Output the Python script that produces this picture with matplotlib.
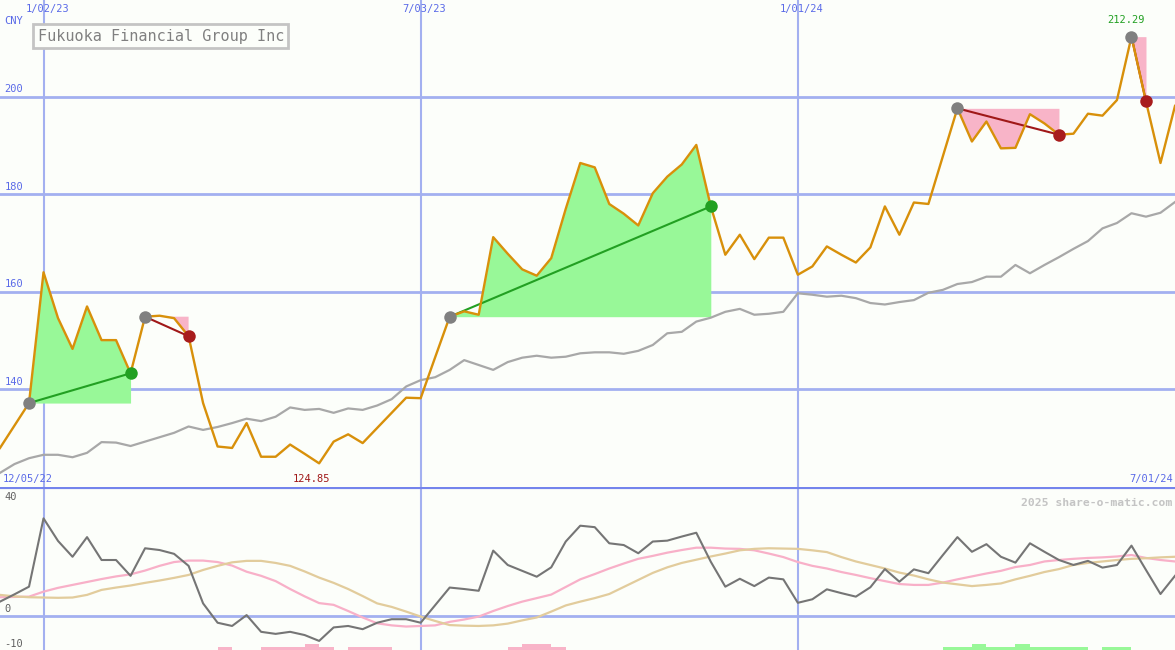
import numpy as np
import matplotlib
matplotlib.use('Agg')
import matplotlib.pyplot as plt
import matplotlib.transforms as mtransforms

################################################################################
# Weekly data (index 0 = 12/05/22, last = 7/01/24)
price = [128.0, 132.6, 137.2, 164.0, 154.6, 148.3, 157.0, 150.1, 150.1, 143.3,
         154.9, 155.1, 154.6, 150.9, 137.2, 128.3, 128.0, 133.1, 126.2, 126.2,
         128.7, 126.8, 124.85, 129.3, 130.8, 129.0, 132.1, 135.2, 138.3, 138.2,
         146.6, 154.9, 156.0, 155.3, 171.2, 167.8, 164.6, 163.3, 166.9, 177.0,
         186.4, 185.5, 178.0, 176.0, 173.6, 180.2, 183.6, 186.1, 190.1, 177.5,
         167.6, 171.7, 166.7, 171.1, 171.1, 163.5, 165.2, 169.3, 167.6, 166.0,
         169.1, 177.5, 171.7, 178.3, 178.0, 187.8, 197.6, 190.8, 194.9, 189.4,
         189.5, 196.4, 194.5, 192.2, 192.4, 196.5, 196.1, 199.3, 212.29, 199.0,
         186.4, 198.1]

avg = [122.9, 124.7, 125.9, 126.6, 126.6, 126.1, 127.0, 129.2, 129.1, 128.4,
       129.3, 130.2, 131.1, 132.4, 131.7, 132.3, 133.1, 134.0, 133.5, 134.4,
       136.3, 135.8, 136.0, 135.2, 136.1, 135.8, 136.7, 138.0, 140.6, 141.9,
       142.5, 144.0, 146.0, 145.0, 144.0, 145.6, 146.5, 146.9, 146.5, 146.7,
       147.4, 147.6, 147.6, 147.3, 147.9, 149.1, 151.5, 151.8, 153.9, 154.7,
       155.9, 156.5, 155.3, 155.5, 155.9, 159.7, 159.4, 159.0, 159.2, 158.7,
       157.7, 157.4, 157.9, 158.3, 159.8, 160.4, 161.6, 162.0, 163.1, 163.1,
       165.5, 163.8, 165.5, 167.1, 168.8, 170.4, 173.0, 174.1, 176.1, 175.4,
       176.2, 178.4]

momentum = [4.9, 7.4, 10.0, 33.3, 25.6, 20.2, 26.9, 19.1, 19.1, 13.7,
            23.1, 22.5, 21.2, 17.1, 4.3, -2.3, -3.4, 0.3, -5.4, -6.1,
            -5.4, -6.5, -8.5, -3.9, -3.4, -4.5, -2.3, -1.1, -1.1, -2.3,
            3.7, 9.7, 9.2, 8.6, 22.3, 17.4, 15.4, 13.4, 16.6, 25.4,
            30.8, 30.3, 24.8, 24.2, 21.4, 25.4, 25.7, 27.1, 28.4, 18.5,
            10.0, 12.7, 10.2, 13.1, 12.5, 4.5, 5.7, 9.1, 7.8, 6.6,
            9.8, 16.0, 11.7, 15.9, 14.6, 20.8, 26.9, 21.9, 24.5, 20.2,
            18.2, 24.8, 21.9, 19.1, 17.4, 18.8, 16.5, 17.4, 24.0, 15.7,
            7.5, 13.7]

fast_avg = [6.4, 6.5, 6.6, 8.3, 9.6, 10.6, 11.6, 12.6, 13.5, 14.2,
            15.5, 17.1, 18.4, 18.9, 18.9, 18.4, 17.2, 15.1, 13.7, 11.9,
            9.2, 6.7, 4.4, 3.8, 1.7, -0.5, -2.5, -3.2, -3.6, -3.4,
            -3.2, -2.0, -1.2, -0.2, 1.7, 3.4, 4.9, 6.1, 7.3, 9.9,
            12.5, 14.3, 16.2, 17.9, 19.5, 20.5, 21.6, 22.5, 23.3, 23.3,
            23.0, 22.9, 22.4, 21.3, 20.1, 18.4, 17.1, 16.2, 15.0, 14.0,
            12.9, 11.9, 10.9, 10.6, 10.6, 11.4, 12.5, 13.5, 14.5, 15.4,
            16.7, 17.4, 18.6, 19.1, 19.5, 19.8, 20.0, 20.3, 20.8, 19.8,
            19.1, 18.6]

slow_avg = [7.2, 6.7, 6.4, 6.3, 6.2, 6.3, 7.2, 8.9, 9.7, 10.4,
            11.3, 12.1, 13.0, 14.0, 15.7, 17.1, 18.3, 18.8, 18.8, 18.1,
            17.1, 15.2, 13.1, 11.3, 9.2, 6.8, 4.3, 3.1, 1.5, -0.2,
            -1.7, -3.1, -3.3, -3.4, -3.2, -2.6, -1.5, -0.5, 1.5, 3.6,
            4.9, 6.1, 7.5, 9.9, 12.3, 14.7, 16.6, 18.1, 19.2, 20.3,
            21.3, 22.4, 22.9, 23.1, 23.0, 22.9, 22.4, 21.8, 20.1, 18.6,
            17.4, 16.2, 14.8, 13.8, 12.5, 11.4, 10.8, 10.2, 10.6, 11.1,
            12.5, 13.7, 15.0, 16.0, 17.4, 18.1, 18.6, 19.1, 19.5, 19.7,
            20.0, 20.2]

# small histogram bars along the bottom edge (index, height)
sell_bars = [(15, 1), (18, 1), (19, 1), (20, 1), (21, 2), (22, 1), (24, 1), (25, 1),
             (26, 1), (35, 1), (36, 2), (37, 2), (38, 1)]
buy_bars = [(65, 1), (66, 1), (67, 2), (68, 1), (69, 1), (70, 2), (71, 1), (72, 1),
            (73, 1), (74, 1), (76, 1), (77, 1)]

# trades: (start index, end index, direction)
trades = [(2, 9, 'up'), (10, 13, 'down'), (31, 49, 'up'), (66, 73, 'down'), (78, 79, 'down')]

date_ticks = [3, 29, 55]
date_labels = ['1/02/23', '7/03/23', '1/01/24']
price_ticks = [140, 160, 180, 200]
osc_ticks = [40, 0, -10]

################################################################################
bg = '#fcfefa'
grid_c = '#a3b0f0'
blue_txt = '#5a6ae8'
mono = 'DejaVu Sans Mono'
fs = 7.5

x = np.arange(len(price))
p = np.array(price)

fig = plt.figure(figsize=(11.75, 6.5), dpi=100)
fig.patch.set_facecolor(bg)
ax = fig.add_axes([0, 163 / 650, 1, 487 / 650])
ax2 = fig.add_axes([0, 0, 1, 163 / 650])
for a in (ax, ax2):
    a.set_facecolor(bg)
    a.set_xlim(0, len(price) - 1)
    a.set_xticks([])
    a.set_yticks([])
    for s in a.spines.values():
        s.set_visible(False)

ax.set_ylim(120, 219.8)
ax2.set_ylim(-11.6, 44)

# grid
for v in price_ticks:
    ax.axhline(v, color=grid_c, lw=2, zorder=1)
for t in date_ticks:
    ax.axvline(t, color=grid_c, lw=1.5, zorder=1)
    ax2.axvline(t, color=grid_c, lw=1.5, zorder=1)
ax2.axhline(0, color=grid_c, lw=2, zorder=1)
ax2.axhline(44, color='#7484ec', lw=3, zorder=5)

# trades
for s, e, d in trades:
    xs = x[s:e + 1]
    ps = p[s:e + 1]
    base = p[s]
    if d == 'up':
        ax.fill_between(xs, ps, base, where=ps >= base, interpolate=True,
                        color='#98f898', lw=0, zorder=2)
        ax.plot([s, e], [p[s], p[e]], color='#22a022', lw=1.5, zorder=4)
        end_c = '#22a022'
    else:
        ax.fill_between(xs, ps, base, where=ps <= base, interpolate=True,
                        color='#f8b4c8', lw=0, zorder=2)
        ax.plot([s, e], [p[s], p[e]], color='#a01818', lw=1.5, zorder=4)
        end_c = '#a81c1c'
    ax.plot(s, p[s], 'o', color='#808080', ms=9, mew=0, zorder=5)
    ax.plot(e, p[e], 'o', color=end_c, ms=9, mew=0, zorder=5)

ax.plot(x, avg, color='#a8a8a8', lw=1.6, zorder=3)
ax.plot(x, price, color='#d8900a', lw=1.7, zorder=4)

# labels on price panel
tr = mtransforms.blended_transform_factory(ax.transAxes, ax.transData)
for v in price_ticks:
    ax.text(0.004, v + 0.5, str(v), transform=tr, color=blue_txt, fontsize=fs,
            family=mono, va='bottom', ha='left')
ax.text(0.004, 0.957, 'CNY', transform=ax.transAxes, color=blue_txt, fontsize=fs,
        family=mono, va='center', ha='left')
trx = mtransforms.blended_transform_factory(ax.transData, ax.transAxes)
for t, lab in zip(date_ticks, date_labels):
    ax.text(t + 0.25, 0.982, lab, transform=trx, color=blue_txt, fontsize=fs,
            family=mono, va='center', ha='center')
ax.text(0.002, 0.017, '12/05/22', transform=ax.transAxes, color=blue_txt,
        fontsize=fs, family=mono, va='center', ha='left')
ax.text(0.998, 0.017, '7/01/24', transform=ax.transAxes, color=blue_txt,
        fontsize=fs, family=mono, va='center', ha='right')

imax = int(np.argmax(p))
imin = int(np.argmin(p))
ax.text(imax - 0.4, 0.958, f'{p[imax]:.2f}', transform=trx, color='#22a022',
        fontsize=fs, family=mono, va='center', ha='center')
ax.text(imin - 0.5, 0.017, f'{p[imin]:.2f}', transform=trx, color='#a01818',
        fontsize=fs, family=mono, va='center', ha='center')

ax.text(0.032, 0.926, 'Fukuoka Financial Group Inc', transform=ax.transAxes,
        color='#808080', fontsize=10.9, family=mono, va='center', ha='left',
        bbox=dict(boxstyle='square,pad=0.28', fc=bg, ec='#c4c4c4', lw=2), zorder=6)

# oscillator panel
ax2.plot(x, fast_avg, color='#f8b0c8', lw=1.6, zorder=2)
ax2.plot(x, slow_avg, color='#e2cc9c', lw=1.6, zorder=2)
ax2.plot(x, momentum, color='#757575', lw=1.5, zorder=3)

ylo = ax2.get_ylim()[0]
ax2.bar([b[0] for b in sell_bars], [b[1] for b in sell_bars], width=1, align='edge',
        bottom=ylo, color='#f8b4c8', lw=0, zorder=2)
ax2.bar([b[0] for b in buy_bars], [b[1] for b in buy_bars], width=1, align='edge',
        bottom=ylo, color='#98f898', lw=0, zorder=2)

tr2 = mtransforms.blended_transform_factory(ax2.transAxes, ax2.transData)
for v in osc_ticks:
    ax2.text(0.004, v + 2.3 if v == 0 else v + 0.5, str(v), transform=tr2, color='#606060',
             fontsize=fs, family=mono, va='center', ha='left')
ax2.text(0.998, 0.9, '2025 share-o-matic.com', transform=ax2.transAxes,
         color='#c4c4c4', fontsize=8.2, family=mono, weight='bold', va='center', ha='right')

fig.savefig('out.png', dpi=100, facecolor=bg)
print('Done')
